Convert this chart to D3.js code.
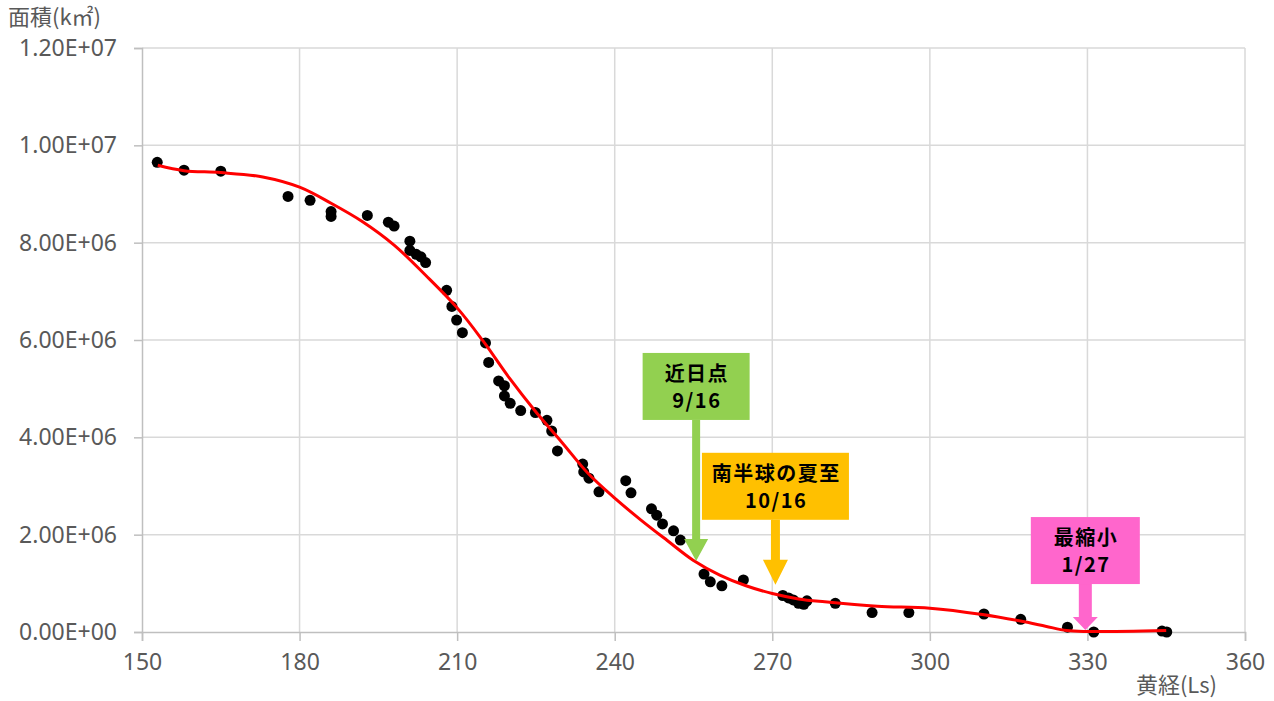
<!DOCTYPE html>
<html>
<head>
<meta charset="utf-8">
<script src="https://cdn.jsdelivr.net/npm/d3@7"></script>
<style>
  html, body { margin: 0; padding: 0; background: #fff; }
  svg { display: block; }
</style>
</head>
<body>
<svg id="chart" width="1274" height="701"></svg>
<script>
// Observed polar cap area against solar longitude (Ls)
const obsLs = [
  152.9, 158.0, 165.0, 177.8, 182.0, 186.0, 186.0, 192.9, 196.9, 198.0,
  201.0, 201.0, 202.2, 203.1, 204.0, 208.0, 209.0, 209.9, 211.0, 215.4,
  216.0, 217.9, 219.0, 219.0, 220.1, 222.1, 224.9, 227.1, 228.0, 229.1,
  233.9, 234.1, 235.1, 237.0, 242.1, 243.1, 247.0, 248.0, 249.1, 251.2,
  252.5, 257.0, 258.2, 260.4, 264.5, 272.0, 273.1, 274.0, 275.0, 276.0,
  276.6, 282.0, 289.0, 296.0, 310.3, 317.3, 326.2, 331.2, 344.2, 345.1
];
const obsArea = [
  9.65e6, 9.49e6, 9.47e6, 8.95e6, 8.87e6, 8.64e6, 8.54e6, 8.56e6, 8.42e6, 8.34e6,
  8.03e6, 7.84e6, 7.76e6, 7.71e6, 7.59e6, 7.02e6, 6.69e6, 6.41e6, 6.15e6, 5.94e6,
  5.54e6, 5.16e6, 5.06e6, 4.85e6, 4.70e6, 4.55e6, 4.51e6, 4.35e6, 4.13e6, 3.72e6,
  3.45e6, 3.29e6, 3.16e6, 2.88e6, 3.11e6, 2.86e6, 2.53e6, 2.40e6, 2.22e6, 2.08e6,
  1.89e6, 1.19e6, 1.03e6, 0.95e6, 1.07e6, 0.75e6, 0.70e6, 0.66e6, 0.59e6, 0.57e6,
  0.64e6, 0.59e6, 0.40e6, 0.40e6, 0.37e6, 0.26e6, 0.10e6, 0.00e6, 0.02e6, 0.00e6
];

// Smoothed trend of the cap area
const fitLs = [
  153, 158, 165, 173, 180, 186, 192, 198, 204, 210,
  215, 220, 225, 230, 235, 240, 245, 250, 255, 260,
  265, 270, 275, 280, 290, 300, 310, 317, 322, 326,
  330, 345
];
const fitArea = [
  9.59e6, 9.48e6, 9.44e6, 9.35e6, 9.14e6, 8.81e6, 8.43e6, 7.95e6, 7.33e6, 6.66e6,
  5.97e6, 5.21e6, 4.52e6, 3.89e6, 3.25e6, 2.75e6, 2.30e6, 1.88e6, 1.47e6, 1.17e6,
  0.95e6, 0.79e6, 0.68e6, 0.62e6, 0.53e6, 0.49e6, 0.36e6, 0.23e6, 0.12e6, 0.03e6,
  0.01e6, 0.03e6
];

// Axis ticks
const xTicks = [150, 180, 210, 240, 270, 300, 330, 360];
const yTicks = [0, 2e6, 4e6, 6e6, 8e6, 1e7, 1.2e7];

// Events marked on the curve
const eventNames = ["近日点", "南半球の夏至", "最縮小"];
const eventDates = ["9/16", "10/16", "1/27"];
const eventLs = [255.5, 270.6, 329.6];
const eventArea = [1.46e6, 0.97e6, 0.04e6];

// Callout styling (box size, offset above the arrow tip, arrow shape)
const calloutStyle = [
  { fill: "#92D050", boxW: 107, boxH: 67, rise: 208, shaftW: 8,  headW: 24, headH: 22 },
  { fill: "#FFC000", boxW: 147, boxH: 67, rise: 132, shaftW: 9,  headW: 25, headH: 25 },
  { fill: "#FF66CC", boxW: 109, boxH: 67, rise: 113, shaftW: 13, headW: 25, headH: 13 }
];

const svg = d3.select("#chart");

const x = d3.scaleLinear().domain([150, 360]).range([142, 1245]);
const y = d3.scaleLinear().domain([0, 1.2e7]).range([632, 48]);

const gridColor = "#d9d9d9";
const axisColor = "#bfbfbf";
const textColor = "#595959";

// Gridlines
svg.append("g").selectAll("line").data(yTicks.filter(d => d > 0)).join("line")
  .attr("x1", x(150)).attr("x2", x(360))
  .attr("y1", d => y(d)).attr("y2", d => y(d))
  .attr("stroke", gridColor).attr("stroke-width", 1.5);
svg.append("g").selectAll("line").data(xTicks.filter(d => d > 150)).join("line")
  .attr("x1", d => x(d)).attr("x2", d => x(d))
  .attr("y1", y(1.2e7)).attr("y2", y(0))
  .attr("stroke", gridColor).attr("stroke-width", 1.5);

// Axes
const fmtE = d => {
  const e = d === 0 ? 0 : Math.floor(Math.log10(d));
  const m = d === 0 ? 0 : d / Math.pow(10, e);
  return m.toFixed(2) + "E+" + String(e).padStart(2, "0");
};

const yAxis = svg.append("g")
  .attr("transform", `translate(${x(150)},0)`)
  .call(d3.axisLeft(y).tickValues(yTicks).tickFormat(fmtE).tickSize(8).tickPadding(17));
const xAxis = svg.append("g")
  .attr("transform", `translate(0,${y(0)})`)
  .call(d3.axisBottom(x).tickValues(xTicks).tickFormat(d3.format("d")).tickSize(9).tickPadding(13));

[yAxis, xAxis].forEach(g => {
  g.select(".domain").attr("stroke", axisColor).attr("stroke-width", 1.5);
  g.selectAll(".tick line").attr("stroke", axisColor).attr("stroke-width", 1.5);
  g.selectAll(".tick text")
    .attr("fill", textColor)
    .style("font-family", "'Noto Sans', 'Open Sans', sans-serif")
    .style("font-size", "23px");
});

// Axis titles
svg.append("text")
  .attr("x", 8).attr("y", 25)
  .attr("fill", textColor)
  .style("font-family", "'Noto Sans CJK JP', sans-serif")
  .style("font-size", "22px")
  .text("面積(k㎡)");
svg.append("text")
  .attr("x", 1217).attr("y", 693)
  .attr("text-anchor", "end")
  .attr("fill", textColor)
  .style("font-family", "'Noto Sans CJK JP', sans-serif")
  .style("font-size", "22px")
  .text("黄経(Ls)");

// Observations
svg.append("g").selectAll("circle").data(obsLs).join("circle")
  .attr("cx", d => x(d))
  .attr("cy", (d, i) => y(obsArea[i]))
  .attr("r", 5.5)
  .attr("fill", "#000");

// Trend line
const line = d3.line()
  .x(d => x(d[0]))
  .y(d => y(d[1]))
  .curve(d3.curveCatmullRom.alpha(0.5));
svg.append("path")
  .datum(fitLs.map((d, i) => [d, fitArea[i]]))
  .attr("d", line)
  .attr("fill", "none")
  .attr("stroke", "#ff0000")
  .attr("stroke-width", 3);

// Callouts with arrows
eventNames.forEach((name, i) => {
  const s = calloutStyle[i];
  const tx = x(eventLs[i]);
  const ty = y(eventArea[i]);
  const top = ty - s.rise;
  const bottom = top + s.boxH;
  const g = svg.append("g");

  const hs = s.shaftW / 2, hh = s.headW / 2;
  const pts = [
    [tx - hs, bottom], [tx + hs, bottom], [tx + hs, ty - s.headH],
    [tx + hh, ty - s.headH], [tx, ty], [tx - hh, ty - s.headH],
    [tx - hs, ty - s.headH]
  ];
  g.append("path")
    .attr("d", d3.line()(pts) + "Z")
    .attr("fill", s.fill);

  g.append("rect")
    .attr("x", tx - s.boxW / 2).attr("y", top)
    .attr("width", s.boxW).attr("height", s.boxH)
    .attr("fill", s.fill);

  const t = g.append("text")
    .attr("text-anchor", "middle")
    .attr("fill", "#000")
    .style("font-family", "'Noto Sans CJK JP', sans-serif")
    .style("font-weight", "bold")
    .style("font-size", "20px")
    .style("letter-spacing", "1.5px");
  t.append("tspan").attr("x", tx + 0.75).attr("y", top + 28).text(name);
  t.append("tspan").attr("x", tx + 0.75).attr("y", top + 55).text(eventDates[i]);
});
</script>
</body>
</html>
